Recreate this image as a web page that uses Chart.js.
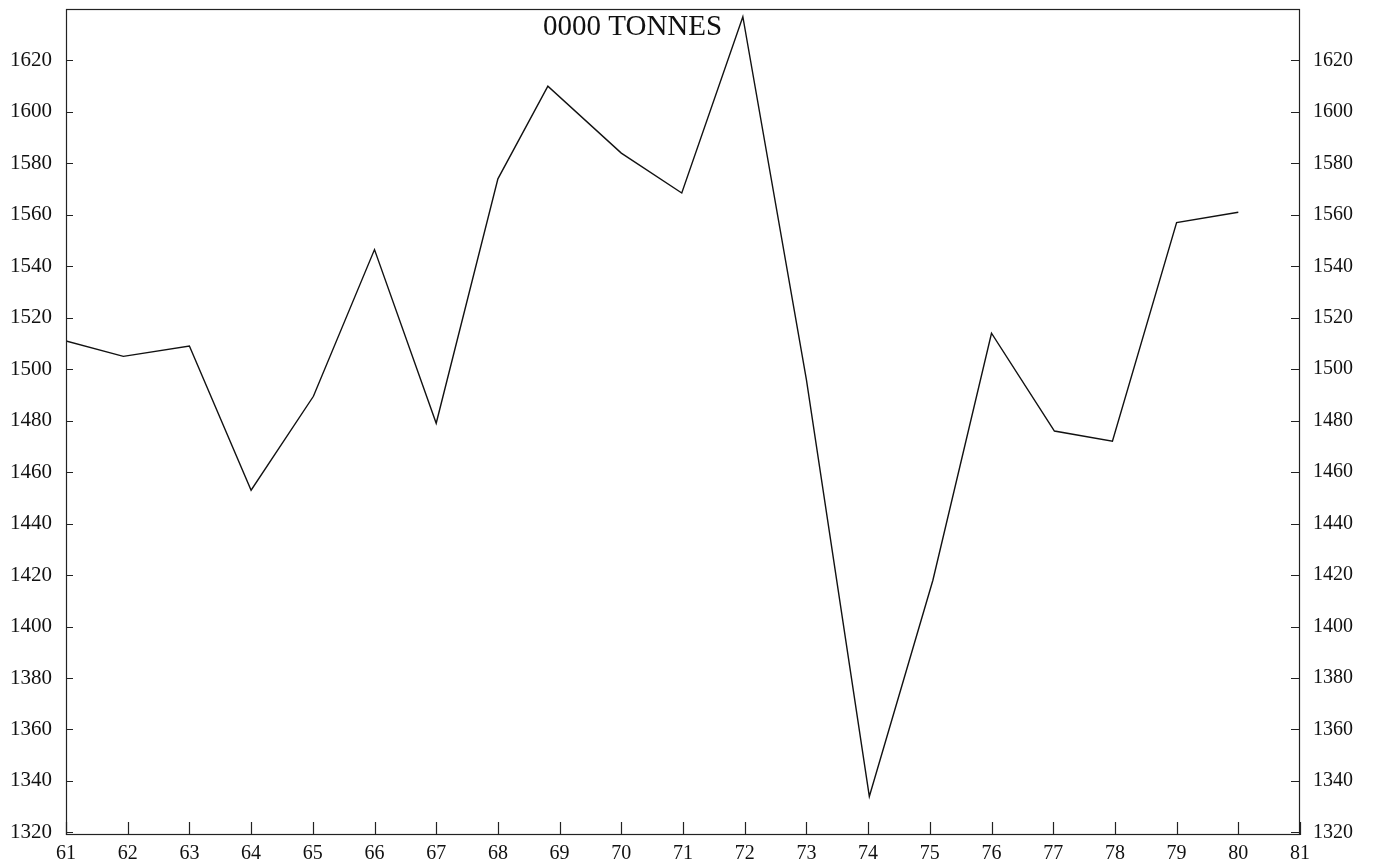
<!DOCTYPE html>
<html>
<head>
<meta charset="utf-8">
<script src="https://cdn.jsdelivr.net/npm/chart.js@4/dist/chart.umd.min.js"></script>
<style>
  html, body { margin: 0; padding: 0; background: #ffffff; }
  #wrap { width: 1373px; height: 865px; }
</style>
</head>
<body>
<div id="wrap"><canvas id="c" width="1373" height="865"></canvas></div>
<script>
// ---- data ----
const titleText = "0000 TONNES";
const years = [61, 61.93, 63, 64, 65.01, 66, 67, 68, 68.81, 70, 70.98, 71.97, 73, 74.02, 75.05, 76, 77.02, 77.96, 79, 80];
const tonnes = [1511, 1505, 1509, 1453, 1489.5, 1546.5, 1479, 1574, 1610, 1584, 1568.5, 1637, 1496, 1334, 1418, 1514, 1476, 1472, 1557, 1561];
const xTickValues = [61,62,63,64,65,66,67,68,69,70,71,72,73,74,75,76,77,78,79,80,81];
const yTickValues = [1320,1340,1360,1380,1400,1420,1440,1460,1480,1500,1520,1540,1560,1580,1600,1620];

const points = years.map((x, i) => ({ x: x, y: tonnes[i] }));
const FONT = "'Liberation Serif', 'DejaVu Serif', serif";

function noPad(s) { s.paddingTop = 0; s.paddingBottom = 0; s.paddingLeft = 0; s.paddingRight = 0; }

const framePlugin = {
  id: 'frame',
  afterDraw(chart) {
    const ctx = chart.ctx;
    const a = chart.chartArea;
    ctx.save();
    ctx.strokeStyle = '#222';
    ctx.lineWidth = 1.2;
    ctx.strokeRect(a.left + 0.5, a.top + 0.5, a.right - a.left - 1, a.bottom - a.top - 1);
    // inward tick marks
    ctx.beginPath();
    const ys = chart.scales.y;
    ys.ticks.forEach(t => {
      const p = Math.round(ys.getPixelForValue(t.value)) + 0.5;
      ctx.moveTo(a.left, p); ctx.lineTo(a.left + 7, p);
      ctx.moveTo(a.right - 9, p); ctx.lineTo(a.right, p);
    });
    const xs = chart.scales.x;
    xs.ticks.forEach(t => {
      const p = Math.round(xs.getPixelForValue(t.value)) + 0.5;
      ctx.moveTo(p, a.bottom); ctx.lineTo(p, a.bottom - 13);
    });
    ctx.stroke();
    // title text inside plot
    ctx.fillStyle = '#111';
    ctx.font = "29px " + FONT;
    ctx.textAlign = 'left';
    ctx.textBaseline = 'alphabetic';
    ctx.fillText(titleText, a.left + 477, a.top + 26);
    ctx.restore();
  }
};

new Chart(document.getElementById('c'), {
  type: 'line',
  data: {
    datasets: [{
      data: points,
      borderColor: '#111',
      borderWidth: 1.4,
      pointRadius: 0,
      tension: 0,
      fill: false,
      yAxisID: 'y'
    }]
  },
  options: {
    responsive: false,
    animation: false,
    devicePixelRatio: 1,
    layout: { padding: { top: 9, left: 0, right: 0, bottom: 0 } },
    plugins: { legend: { display: false }, tooltip: { enabled: false }, title: { display: false } },
    scales: {
      x: {
        type: 'linear',
        min: 61, max: 81,
        afterBuildTicks: s => { s.ticks = xTickValues.map(v => ({ value: v })); },
        afterFit: s => { s.height = 30; noPad(s); },
        grid: { display: false, drawTicks: false },
        border: { display: false },
        ticks: { color: '#111', font: { family: FONT, size: 20 }, padding: 7, maxRotation: 0, autoSkip: false,
                 callback: v => String(v) }
      },
      y: {
        type: 'linear', position: 'left',
        min: 1319, max: 1640,
        afterBuildTicks: s => { s.ticks = yTickValues.map(v => ({ value: v })); },
        afterFit: s => { s.width = 66; noPad(s); },
        grid: { display: false, drawTicks: false },
        border: { display: false },
        ticks: { color: '#111', font: { family: FONT, size: 21 }, padding: 14, autoSkip: false,
                 callback: v => String(v) }
      },
      y2: {
        type: 'linear', position: 'right',
        min: 1319, max: 1640,
        afterBuildTicks: s => { s.ticks = yTickValues.map(v => ({ value: v })); },
        afterFit: s => { s.width = 73; noPad(s); },
        grid: { display: false, drawTicks: false },
        border: { display: false },
        ticks: { color: '#111', font: { family: FONT, size: 20 }, padding: 13, autoSkip: false,
                 callback: v => String(v) }
      }
    }
  },
  plugins: [framePlugin]
});
</script>
</body>
</html>
